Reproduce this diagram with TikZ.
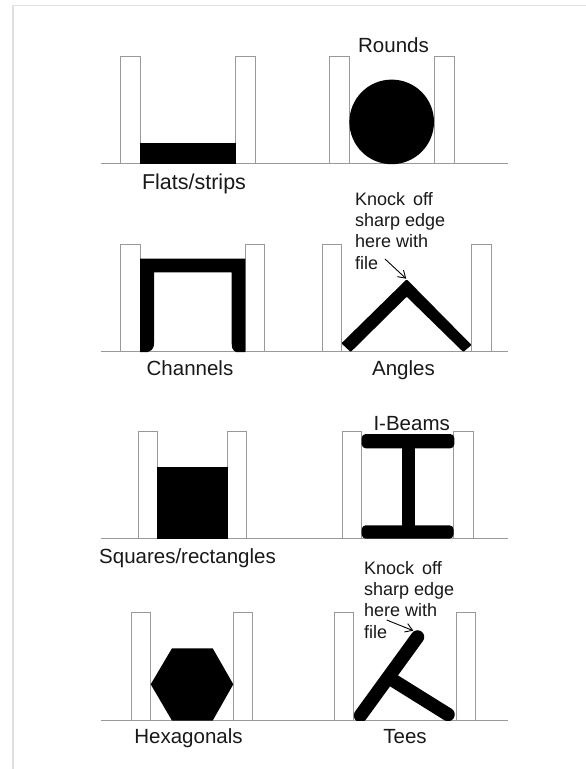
\documentclass[tikz,border=0pt]{standalone}
\usepackage{fontspec}
\setmainfont{Liberation Sans}
\usetikzlibrary{arrows.meta}
\tikzset{
  post/.style={draw=black!40,line width=0.9pt,fill=white},
  ground/.style={draw=black!40,line width=0.9pt},
  frameline/.style={draw=black!12,line width=1.6pt},
  solid shape/.style={fill=black,draw=none},
  bar/.style={draw=black,line width=13.5pt,line cap=round},
  lab/.style={font=\fontsize{20.5}{24}\selectfont,inner sep=0pt,text=black!90,anchor=base},
  note/.style={font=\fontsize{18}{21.3}\selectfont,inner sep=0pt,align=left,anchor=north west,text=black!90},
  pointer/.style={draw=black,line width=0.9pt,-{Straight Barb[length=7pt,width=9pt]}}
}
\begin{document}
\begin{tikzpicture}[x=1pt,y=-1pt]
\useasboundingbox (0,0) rectangle (586,769);
\fill[white] (0,0) rectangle (586,769);
\draw[frameline] (12.8,769) -- (12.8,5.6) -- (586,5.6);
% row 1
\draw[post] (120.7,163.7) rectangle (140,56);
\draw[post] (235.7,163.7) rectangle (255.3,56);
\draw[post] (329.7,163.7) rectangle (349.3,56);
\draw[post] (434,163.7) rectangle (454,56);
\draw[ground] (101,163.7) -- (508,163.7);
\fill[solid shape] (140,143.3) rectangle (236.3,164);
\fill[solid shape] (391.7,121.9) circle (42.3);
\node[lab] (rounds) at (393.5,52.3) {Rounds};
\node[lab,font=\fontsize{21.5}{24}\selectfont] (flats) at (194,189.3) {Flats/strips};
% row 2
\draw[post] (120.7,351.7) rectangle (140,244);
\draw[post] (245,351.7) rectangle (264.7,244);
\draw[post] (322,351.7) rectangle (341.7,244);
\draw[post] (471.3,351.7) rectangle (491,244);
\draw[ground] (101,351.7) -- (508,351.7);
\fill[solid shape] (140,352) -- (140,258.7) -- (245.3,258.7) -- (245.3,352) -- (236,352)
  .. controls (232,350) and (231.7,347) .. (231.7,343) -- (231.7,272.3) -- (154,272.3) -- (154,343)
  .. controls (154,347) and (153,350) .. (148,352) -- cycle;
\fill[solid shape,rounded corners=1pt] (341.4,343.3) -- (406.7,279.3) -- (471.5,345) -- (463.3,352) -- (406.7,296.7) -- (350.7,352) -- cycle;
\node[lab] (channels) at (190,375.7) {Channels};
\node[lab] (angles) at (403.5,375.7) {Angles};
\node[note] (note1) at (355,192) {Knock\hspace{8pt}off\\sharp edge\\here with\\file};
\coordinate (tip1) at (406.2,278.7);
\coordinate (tail1) at (385,259);
\draw[pointer] (tail1) -- (tip1);
% row 3
\draw[post] (138.3,538.3) rectangle (157.7,431);
\draw[post] (227.3,538.3) rectangle (246.3,431);
\draw[post] (342,538.3) rectangle (361.3,431);
\draw[post] (453.3,538.3) rectangle (473.3,431);
\draw[ground] (101,538.3) -- (508,538.3);
\fill[solid shape] (156.7,467.3) rectangle (228,538.6);
\fill[solid shape,rounded corners=4pt] (361.7,434) rectangle (454.3,448.3);
\fill[solid shape] (401.7,440) rectangle (415,530);
\fill[solid shape,rounded corners=4pt] (361.7,525.3) rectangle (453.5,538.6);
\node[lab] (ibeams) at (411.7,430.7) {I-Beams};
\node[lab] (squares) at (187.5,563.3) {Squares/rectangles};
% row 4
\draw[post] (131.3,720.3) rectangle (150.7,612.3);
\draw[post] (233.3,720.3) rectangle (252.3,612.3);
\draw[post] (334.3,720.3) rectangle (353.7,612.3);
\draw[post] (456.3,720.3) rectangle (475.3,612.3);
\draw[ground] (101,720.3) -- (508,720.3);
\fill[solid shape] (150.7,684.3) -- (172,648.3) -- (212.7,648.3) -- (233.3,684.3) -- (212.7,720.6) -- (172,720.6) -- cycle;
\coordinate (stemA) at (360.5,715.5);
\coordinate (stemB) at (417.5,637);
\coordinate (armA) at (391,679);
\coordinate (armB) at (448,714.5);
\begin{scope}
\clip (330,620) rectangle (480,720.8);
\draw[bar] (stemA) -- (stemB);
\draw[bar] (armA) -- (armB);
\end{scope}
\node[lab] (hex) at (188.5,743.3) {Hexagonals};
\node[lab] (tees) at (405,743.3) {Tees};
\node[note] (note2) at (364,561) {Knock\hspace{8pt}off\\sharp edge\\here with\\file};
\coordinate (tip2) at (413.3,630.7);
\coordinate (tail2) at (386.7,620);
\draw[pointer] (tail2) -- (tip2);
\end{tikzpicture}
\end{document}
